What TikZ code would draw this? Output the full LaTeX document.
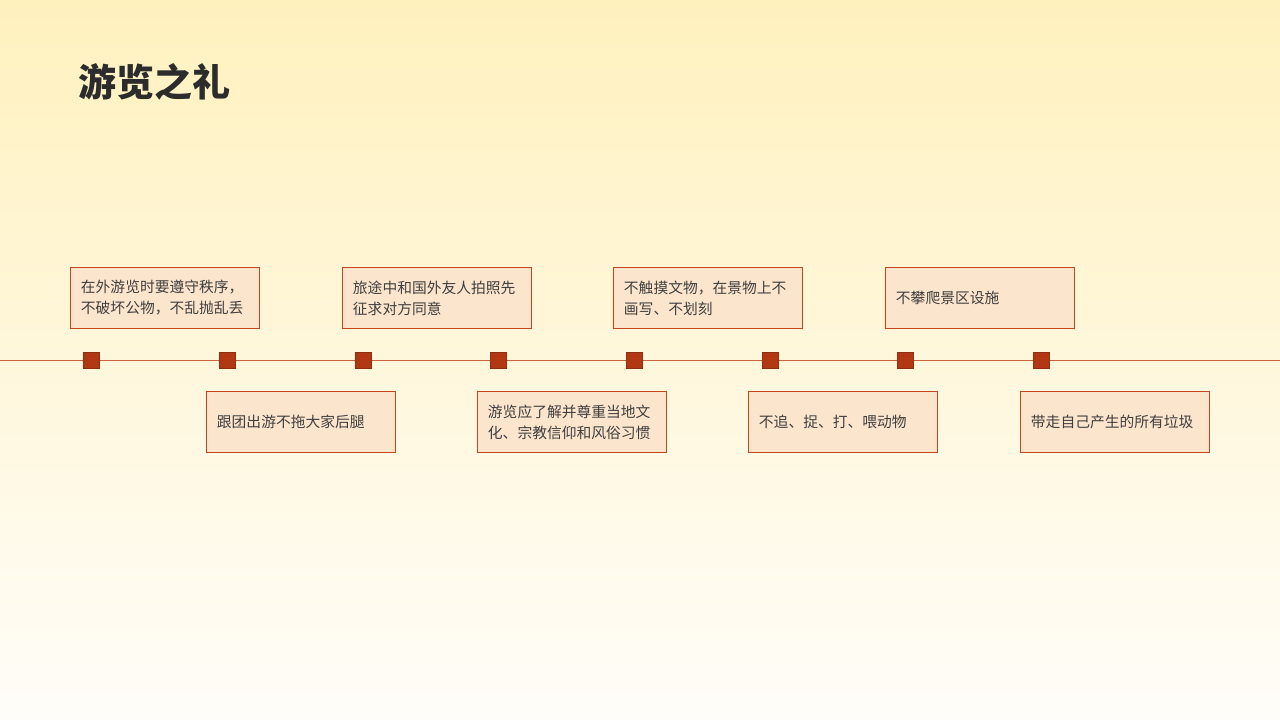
\documentclass[tikz,border=0pt]{standalone}
\usepackage{fontspec}
\setmainfont{Noto Sans CJK SC}
\usetikzlibrary{positioning}
\definecolor{bgtop}{HTML}{FFF1BE}
\definecolor{bgbot}{HTML}{FFFDF9}
\definecolor{boxfill}{HTML}{FCE5CD}
\definecolor{boxline}{HTML}{C2461E}
\definecolor{mark}{HTML}{B13813}
\definecolor{txt}{HTML}{3F3F3F}

\begin{document}
\begin{tikzpicture}[x=0.025cm, y=-0.025cm,
 note/.style = {draw=boxline, fill=boxfill, line width=0.8pt, rectangle, anchor=north west,
   minimum width=4.72cm, minimum height=1.52cm, text width=4.2cm, align=left,
   inner sep=0.25cm, font=\fontsize{10.5}{15}\selectfont, text=txt},
 marker/.style = {draw=mark!80!black, fill=mark, rectangle, minimum size=0.4cm, inner sep=0pt},
                        ]
    \shade[top color=bgtop, bottom color=bgbot] (0,0) rectangle (1280,720);
    \useasboundingbox (0,0) rectangle (1280,720);
    \node [anchor=west, font=\bfseries\fontsize{27}{30}\selectfont, text=txt!70!black] (title) at (74,82) {游览之礼};

%% timeline
    \coordinate (lstart) at (0,360);
    \coordinate (lend)   at (1280,360);
    \draw [boxline!85, line width=0.7pt] (lstart) -- (lend);
    \foreach \x [count=\i] in {91,227,363,498,634,770,905,1041}
        \node [marker] (m\i) at (\x,360) {};

%% notes
    \node [note] (n1) at (70,267)  {在外游览时要遵守秩序，\\不破坏公物，不乱抛乱丢};
    \node [note] (n2) at (206,391) {跟团出游不拖大家后腿};
    \node [note] (n3) at (342,267) {旅途中和国外友人拍照先\\征求对方同意};
    \node [note] (n4) at (477,391) {游览应了解并尊重当地文\\化、宗教信仰和风俗习惯};
    \node [note] (n5) at (613,267) {不触摸文物，在景物上不\\画写、不划刻};
    \node [note] (n6) at (748,391) {不追、捉、打、喂动物};
    \node [note] (n7) at (885,267) {不攀爬景区设施};
    \node [note] (n8) at (1020,391) {带走自己产生的所有垃圾};
\end{tikzpicture}
\end{document}
